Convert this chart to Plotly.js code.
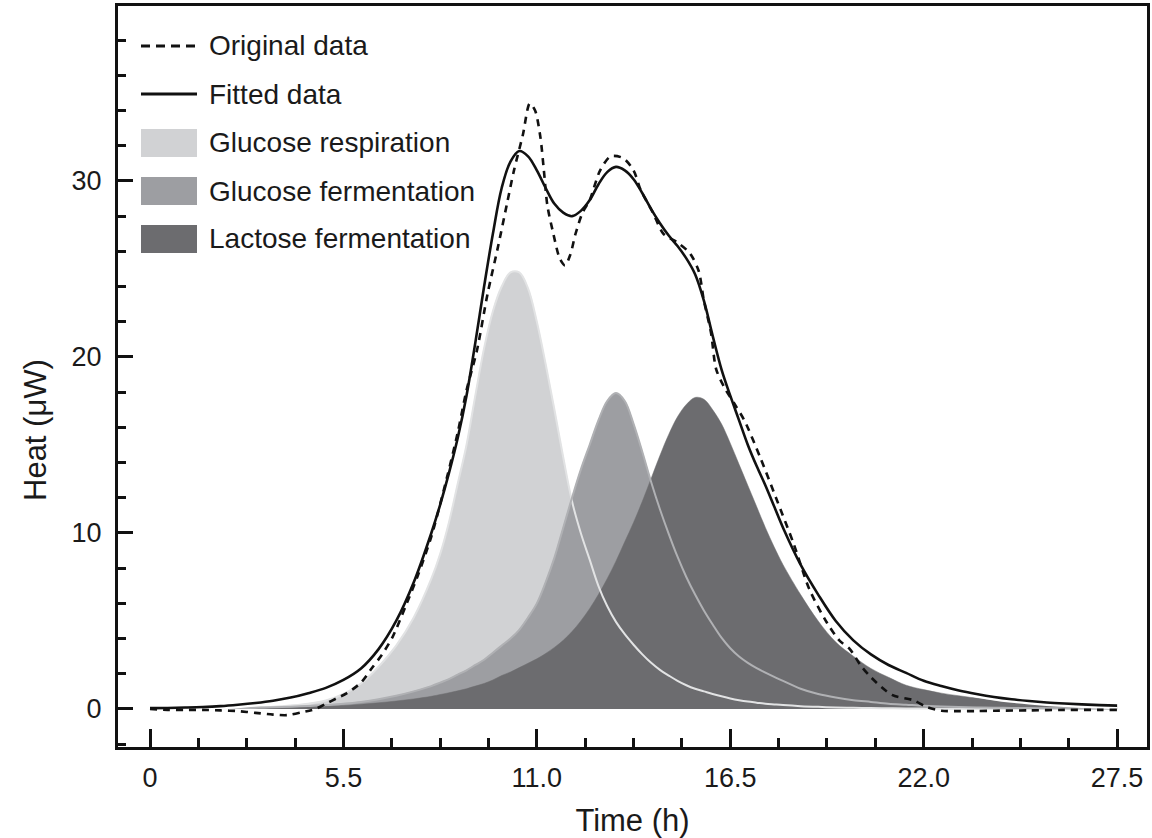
<!DOCTYPE html>
<html>
<head>
<meta charset="utf-8">
<script src="https://cdn.plot.ly/plotly-3.0.1.min.js"></script>
<style>
html,body{margin:0;padding:0;background:#fff;}
#chart{width:1152px;height:838px;}
</style>
</head>
<body>
<div id="chart"></div>
<script>
// ---- data ----
const timeGrid = [0,0.5,1,1.5,2,2.5,3,3.5,4,4.5,5,5.5,6,6.5,7,7.5,
  8,8.25,8.5,8.75,9,9.25,9.5,9.75,10,10.25,10.5,10.75,11,11.25,11.5,11.75,12,12.25,12.5,12.75,13,13.25,13.5,13.75,14,14.25,14.5,14.75,15,15.25,15.5,15.75,16,16.25,16.5,16.75,17,17.25,17.5,17.75,18,
  18.5,19,19.5,20,20.5,21,21.5,22,22.5,23,23.5,24,24.5,25,25.5,26,26.5,27,27.5];

const glucoseRespiration = [0.01,0.015,0.02,0.03,0.04,0.06,0.09,0.13,0.2,0.3,0.48,0.85,1.45,2.4,3.6,5.2,
  7.4,8.8,10.6,12.8,15.0,17.8,20.5,22.6,24.0,24.8,24.8,23.9,22.0,19.6,17.0,14.3,11.8,10.0,8.5,7.0,5.85,4.95,4.25,3.65,3.1,2.62,2.22,1.9,1.6,1.35,1.15,1.0,0.85,0.72,0.6,0.5,0.42,0.36,0.3,0.26,0.22,
  0.16,0.12,0.09,0.07,0.05,0.04,0.03,0.025,0.02,0.015,0.012,0.01,0.01,0.01,0.01,0.01,0.01,0.01,0.01];

const glucoseFermentation = [0.02,0.025,0.03,0.04,0.05,0.06,0.08,0.1,0.13,0.17,0.22,0.3,0.4,0.55,0.75,1.0,
  1.3,1.5,1.7,1.95,2.2,2.5,2.8,3.2,3.6,4.0,4.5,5.2,6.0,7.2,8.6,10.3,12.0,13.6,15.0,16.4,17.5,17.95,17.5,16.2,14.6,12.9,11.35,9.95,8.65,7.5,6.5,5.6,4.8,4.05,3.45,2.98,2.62,2.32,2.06,1.82,1.6,
  1.15,0.85,0.65,0.5,0.4,0.3,0.24,0.18,0.14,0.11,0.09,0.07,0.06,0.05,0.04,0.035,0.03,0.025,0.02];

const lactoseFermentation = [0.01,0.015,0.02,0.025,0.03,0.04,0.05,0.07,0.09,0.12,0.16,0.2,0.27,0.35,0.45,0.57,
  0.72,0.82,0.92,1.03,1.15,1.3,1.45,1.65,1.9,2.1,2.35,2.6,2.85,3.15,3.5,3.9,4.4,5.0,5.7,6.5,7.4,8.4,9.5,10.6,11.8,13.1,14.4,15.6,16.6,17.3,17.7,17.6,17.0,16.2,15.1,13.9,12.7,11.5,10.3,9.2,8.2,
  6.5,5.0,3.8,3.0,2.3,1.8,1.35,1.1,0.9,0.75,0.62,0.5,0.42,0.35,0.29,0.24,0.2,0.17,0.14];

const fittedHeat = [0.05,0.06,0.08,0.11,0.16,0.24,0.34,0.47,0.65,0.9,1.2,1.65,2.3,3.4,5.0,7.2,
  10.0,11.6,13.4,15.4,17.8,20.8,24.0,27.0,29.6,31.1,31.7,31.4,30.6,29.6,28.7,28.2,28.0,28.3,28.9,29.8,30.5,30.8,30.6,30.1,29.3,28.4,27.6,26.9,26.3,25.6,24.7,23.2,21.2,19.3,17.8,16.4,15.0,13.8,12.7,11.5,10.3,
  8.2,6.5,5.0,3.9,3.1,2.5,2.05,1.6,1.3,1.05,0.85,0.68,0.55,0.45,0.37,0.31,0.26,0.22,0.19];

const origTime = [0,0.5,1.0,1.5,2.0,2.5,3.0,3.5,3.9,4.3,4.7,5.0,5.3,5.6,6.0,6.3,6.6,6.9,7.3,7.6,8.0,8.45,8.75,9.0,9.3,9.6,9.9,10.15,10.35,10.6,10.8,10.95,11.1,11.2,11.3,11.47,11.65,11.8,11.95,12.1,12.3,12.5,12.8,13.1,13.45,13.75,13.95,14.3,14.6,15.0,15.35,15.6,15.75,15.95,16.1,16.35,16.6,16.9,17.35,17.8,18.3,18.75,19.25,19.6,19.9,20.2,20.5,21.1,21.7,22.1,22.5,23.0,23.5,24.0,25.0,26.0,27.0,27.5];
const origHeat = [0.0,-0.05,-0.05,-0.05,-0.08,-0.12,-0.22,-0.32,-0.35,-0.2,0.0,0.3,0.6,0.9,1.5,2.3,3.1,4.1,6.0,7.5,9.8,13.2,15.7,18.1,20.4,23.6,26.3,28.7,30.6,32.6,34.4,34.0,32.5,30.6,28.6,27.0,25.6,25.2,25.8,27.0,28.2,28.9,30.6,31.4,31.3,30.6,29.5,28.2,27.0,26.5,25.9,24.9,23.2,21.4,19.3,18.2,17.4,16.4,14.3,12.0,9.4,6.8,4.9,3.9,3.4,2.5,1.8,0.8,0.5,0.1,-0.1,-0.12,-0.12,-0.1,-0.08,-0.05,-0.05,-0.05];

const xTickVals = [0,5.5,11,16.5,22,27.5];
const xTickText = ['0','5.5','11.0','16.5','22.0','27.5'];
const yTickVals = [0,10,20,30];
const seriesNames = ['Original data','Fitted data','Glucose respiration','Glucose fermentation','Lactose fermentation'];
const xTitle = 'Time (h)';
const yTitle = 'Heat (μW)';

// ---- styles ----
const cLight = '#d1d2d4', cMed = '#9d9ea2', cDark = '#6c6c6f';
const FONT = 'Liberation Sans, Arial, Helvetica, sans-serif';

const W = 1152, H = 838, ML = 118, MR = 5, MT = 6, MB = 91;
const pw = W - ML - MR, ph = H - MT - MB;
const px2x = p => (p - ML) / pw;
const py2y = p => 1 - (p - MT) / ph;

const sp = {shape:'spline', smoothing:1.0};

const traces = [
  {x: timeGrid, y: glucoseRespiration, type:'scatter', mode:'lines', fill:'tozeroy', fillcolor:cLight,
   line:Object.assign({color:cLight, width:0.5}, sp), name:seriesNames[2], hoverinfo:'skip'},
  {x: timeGrid, y: glucoseFermentation, type:'scatter', mode:'lines', fill:'tozeroy', fillcolor:cMed,
   line:Object.assign({color:cMed, width:0.5}, sp), name:seriesNames[3], hoverinfo:'skip'},
  {x: timeGrid, y: lactoseFermentation, type:'scatter', mode:'lines', fill:'tozeroy', fillcolor:cDark,
   line:Object.assign({color:cDark, width:0.5}, sp), name:seriesNames[4], hoverinfo:'skip'},
  {x: timeGrid, y: glucoseRespiration, type:'scatter', mode:'lines',
   line:Object.assign({color:'#e2e3e4', width:2}, sp), hoverinfo:'skip'},
  {x: timeGrid, y: glucoseFermentation, type:'scatter', mode:'lines',
   line:Object.assign({color:'#b0b1b4', width:2}, sp), hoverinfo:'skip'},
  {x: timeGrid, y: fittedHeat, type:'scatter', mode:'lines',
   line:Object.assign({color:'#ffffff', width:7}, sp), hoverinfo:'skip'},
  {x: timeGrid, y: fittedHeat, type:'scatter', mode:'lines',
   line:Object.assign({color:'#111111', width:2.6}, sp), name:seriesNames[1]},
  {x: origTime, y: origHeat, type:'scatter', mode:'lines',
   line:{color:'#111111', width:2.6, dash:'7px,6px', shape:'spline', smoothing:0.8}, name:seriesNames[0]}
];

// manual legend (positions in pixels -> paper)
const legShapes = [];
const legAnn = [];
const lx0 = 141, lx1 = 197, tx = 207;
legShapes.push({type:'line', xref:'paper', yref:'paper', x0:px2x(lx0), x1:px2x(lx1), y0:py2y(46), y1:py2y(46),
  line:{color:'#111', width:3, dash:'9px,6px'}});
legShapes.push({type:'line', xref:'paper', yref:'paper', x0:px2x(lx0), x1:px2x(lx1), y0:py2y(94), y1:py2y(94),
  line:{color:'#111', width:3}});
[[129,157,cLight],[177,205,cMed],[225,253,cDark]].forEach(r=>{
  legShapes.push({type:'rect', xref:'paper', yref:'paper', x0:px2x(lx0), x1:px2x(lx1), y0:py2y(r[1]), y1:py2y(r[0]),
    fillcolor:r[2], line:{width:0}});
});
const legY = [46, 94, 143, 191, 239];
seriesNames.forEach((n,i)=>{
  legAnn.push({xref:'paper', yref:'paper', x:px2x(tx), y:py2y(legY[i]), xanchor:'left', yanchor:'middle',
    text:n, showarrow:false, font:{family:FONT, size:28, color:'#1a1a1a'}});
});
// y axis title placed as in the reference (below the vertical centre)
legAnn.push({xref:'paper', yref:'paper', x:px2x(36), y:py2y(430), xanchor:'center', yanchor:'middle',
  textangle:-90, text:yTitle, showarrow:false, font:{family:FONT, size:31, color:'#1a1a1a'}});

const layout = {
  width:W, height:H,
  margin:{l:ML, r:MR, t:MT, b:MB, pad:0},
  paper_bgcolor:'#fff', plot_bgcolor:'#fff',
  showlegend:false,
  font:{family:FONT, size:27, color:'#1a1a1a'},
  xaxis:{
    range:[-0.91, 28.35], showgrid:false, zeroline:false,
    tickvals:xTickVals, ticktext:xTickText,
    ticks:'inside', ticklen:18, tickwidth:3, tickcolor:'#111',
    minor:{dtick:1.375, tick0:0, ticks:'inside', ticklen:9, tickwidth:3, tickcolor:'#111', showgrid:false},
    showline:true, linecolor:'#111', linewidth:3, mirror:true,
    ticklabelstandoff:5,
    tickfont:{family:FONT, size:27, color:'#1a1a1a'},
    title:{text:xTitle, font:{family:FONT, size:31, color:'#1a1a1a'}, standoff:17}
  },
  yaxis:{
    range:[-2.16, 39.94], showgrid:false, zeroline:false,
    tickvals:yTickVals,
    ticks:'inside', ticklen:15, tickwidth:3, tickcolor:'#111',
    minor:{dtick:2, tick0:0, ticks:'inside', ticklen:8, tickwidth:3, tickcolor:'#111', showgrid:false},
    showline:true, linecolor:'#111', linewidth:3, mirror:true,
    ticklabelstandoff:8,
    tickfont:{family:FONT, size:27, color:'#1a1a1a'}
  },
  shapes:legShapes,
  annotations:legAnn
};

Plotly.newPlot('chart', traces, layout, {displayModeBar:false, staticPlot:true});
</script>
</body>
</html>
